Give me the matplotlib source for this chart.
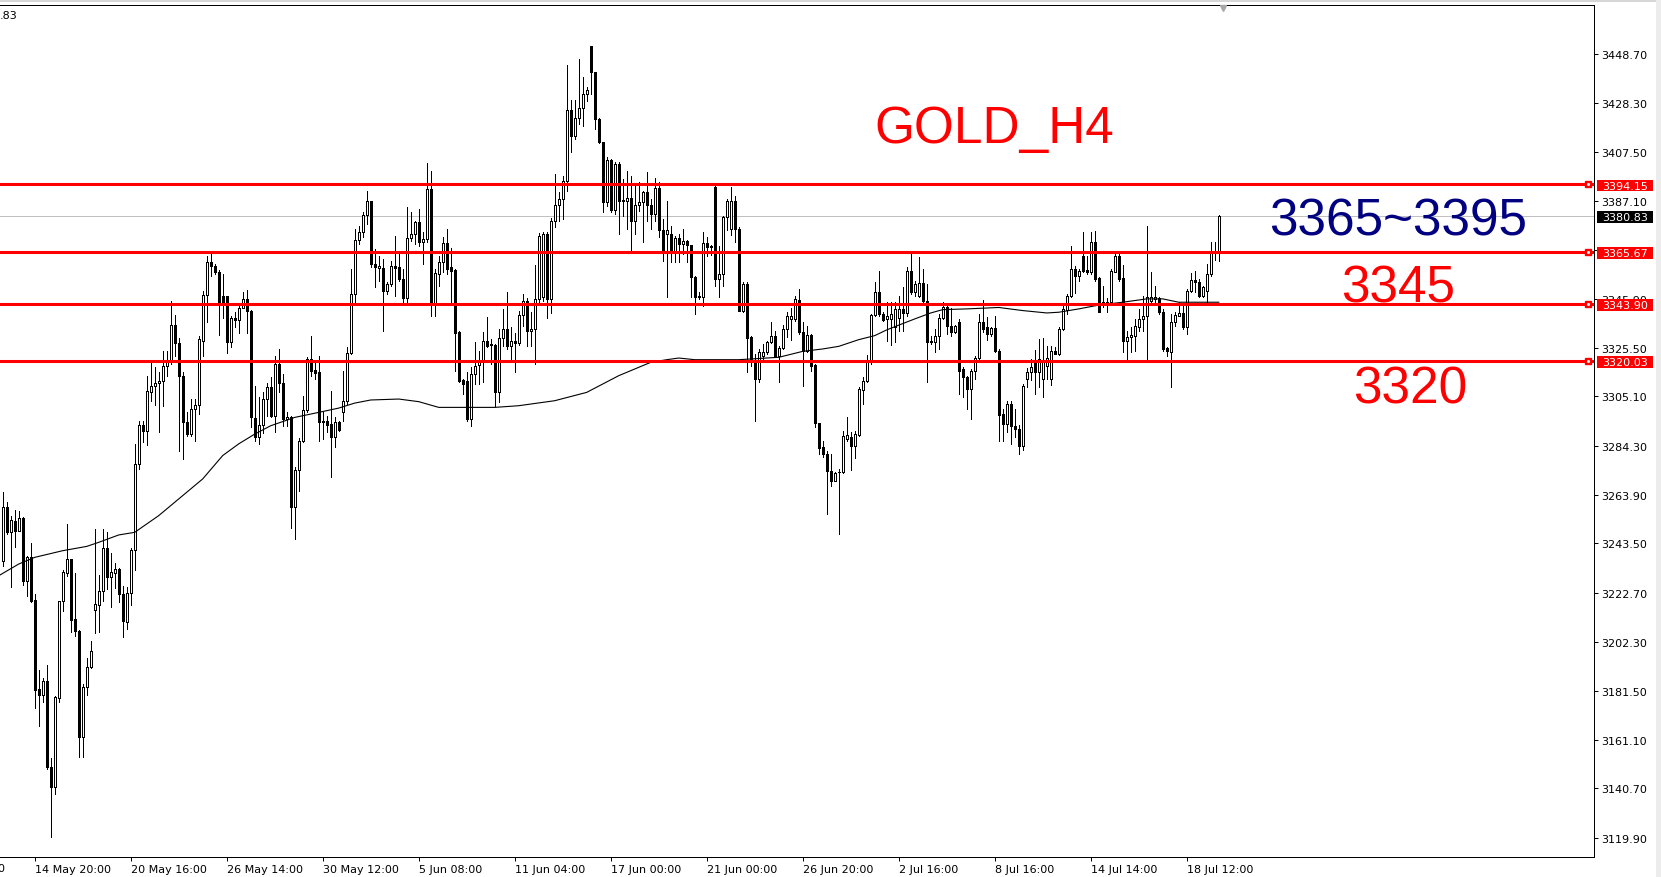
import matplotlib
matplotlib.use("Agg")
import matplotlib.pyplot as plt
from matplotlib.patches import Rectangle
from matplotlib.transforms import blended_transform_factory
import numpy as np

# GOLD H4 candles (oldest first)
opens = [
    3236.2, 3258.6, 3248.4, 3253.0, 3248.8, 3254.0, 3227.8, 3237.6, 3219.6, 3182.4,
    3179.9, 3185.6, 3149.8, 3141.4, 3178.5, 3219.2, 3231.0, 3236.9, 3211.7, 3206.9,
    3162.4, 3183.1, 3191.8, 3215.7, 3217.8, 3223.3, 3241.5, 3229.5, 3231.0, 3232.7,
    3222.2, 3210.6, 3222.5, 3240.7, 3276.7, 3293.3, 3290.5, 3307.0, 3309.3, 3310.6,
    3311.4, 3317.7, 3319.7, 3335.0, 3327.4, 3313.8, 3294.2, 3289.3, 3299.8, 3301.6,
    3328.5, 3347.6, 3361.3, 3359.9, 3357.4, 3347.1, 3347.1, 3328.1, 3337.8, 3337.3,
    3342.2, 3346.0, 3340.8, 3296.0, 3287.9, 3293.1, 3304.0, 3308.9, 3297.0, 3318.7,
    3310.7, 3295.6, 3296.6, 3258.9, 3274.2, 3286.5, 3299.4, 3320.8, 3316.2, 3315.2,
    3294.2, 3294.6, 3293.5, 3288.0, 3294.5, 3298.4, 3303.0, 3323.3, 3348.1, 3370.7,
    3374.2, 3381.2, 3386.9, 3360.6, 3358.9, 3359.0, 3349.5, 3352.2, 3359.7, 3359.2,
    3354.3, 3346.2, 3371.4, 3373.2, 3378.1, 3369.7, 3371.2, 3392.1, 3343.9, 3356.4,
    3361.3, 3369.4, 3359.2, 3358.3, 3332.0, 3312.0, 3311.7, 3295.6, 3314.5, 3318.3,
    3319.4, 3328.2, 3326.5, 3326.7, 3307.1, 3329.5, 3333.4, 3326.1, 3328.5, 3327.5,
    3339.2, 3345.0, 3332.7, 3333.4, 3345.9, 3347.0, 3373.2, 3345.9, 3378.8, 3385.4,
    3387.9, 3395.6, 3425.2, 3414.5, 3421.9, 3426.1, 3431.9, 3451.9, 3441.0, 3421.5,
    3411.7, 3386.8, 3404.4, 3383.4, 3402.6, 3387.5, 3387.2, 3388.2, 3378.8, 3385.4,
    3386.8, 3390.7, 3385.5, 3381.6, 3392.5, 3374.9, 3373.2, 3373.2, 3366.2, 3371.4,
    3369.0, 3370.4, 3368.6, 3355.3, 3347.4, 3346.7, 3369.4, 3367.6, 3392.8, 3354.3,
    3356.4, 3380.2, 3375.3, 3387.2, 3375.3, 3341.1, 3352.2, 3329.9, 3320.0, 3312.4,
    3322.2, 3323.6, 3327.8, 3330.6, 3322.2, 3325.3, 3333.4, 3337.6, 3337.6, 3345.5,
    3332.0, 3324.3, 3330.9, 3318.4, 3293.9, 3283.7, 3280.9, 3273.9, 3269.8, 3273.2,
    3273.3, 3287.2, 3287.9, 3284.2, 3288.9, 3307.9, 3311.7, 3319.7, 3339.2, 3349.0,
    3339.7, 3337.6, 3337.6, 3334.1, 3338.0, 3341.8, 3340.1, 3357.8, 3348.7, 3347.4,
    3352.7, 3345.3, 3328.5, 3328.1, 3330.6, 3337.8, 3342.5, 3334.8, 3332.0, 3336.4,
    3316.6, 3313.1, 3308.2, 3315.9, 3321.1, 3336.4, 3334.1, 3331.3, 3333.6, 3324.3,
    3297.7, 3293.5, 3301.9, 3292.8, 3291.4, 3284.4, 3312.4, 3315.2, 3320.4, 3315.2,
    3312.4, 3318.0, 3312.4, 3324.3, 3322.9, 3333.4, 3341.5, 3347.1, 3358.5, 3355.7,
    3364.1, 3358.1, 3357.1, 3369.7, 3354.6, 3344.5, 3343.9, 3344.8, 3357.4, 3363.9,
    3354.6, 3328.5, 3329.9, 3330.6, 3334.1, 3337.6, 3339.0, 3345.3, 3346.0, 3346.2,
    3340.6, 3325.3, 3323.9, 3336.2, 3339.0, 3339.9, 3334.1, 3349.5, 3353.9, 3353.2,
    3347.4, 3349.5, 3356.4, 3365.5, 3366.2,
]
highs = [
    3264.9, 3260.7, 3255.1, 3257.5, 3257.2, 3254.5, 3238.3, 3243.5, 3222.2, 3190.4,
    3187.0, 3192.4, 3153.3, 3179.6, 3219.4, 3232.3, 3251.6, 3237.0, 3230.9, 3207.0,
    3184.5, 3195.3, 3202.5, 3249.5, 3230.2, 3249.5, 3248.1, 3239.3, 3235.1, 3233.0,
    3225.7, 3225.0, 3241.4, 3285.2, 3294.9, 3294.9, 3313.8, 3319.4, 3317.3, 3315.2,
    3324.3, 3324.3, 3345.3, 3339.2, 3329.5, 3315.2, 3298.4, 3304.0, 3304.0, 3330.6,
    3349.4, 3364.1, 3364.8, 3360.6, 3358.0, 3356.4, 3347.4, 3338.9, 3340.4, 3343.9,
    3348.8, 3349.7, 3341.5, 3309.6, 3304.7, 3306.8, 3310.7, 3313.1, 3322.2, 3325.0,
    3314.5, 3298.4, 3296.8, 3275.4, 3287.5, 3305.4, 3321.5, 3330.6, 3319.4, 3322.2,
    3298.4, 3297.0, 3307.5, 3296.3, 3294.9, 3315.9, 3325.7, 3358.5, 3375.3, 3376.7,
    3382.3, 3391.4, 3387.2, 3366.9, 3364.1, 3362.7, 3352.9, 3362.0, 3372.2, 3364.8,
    3358.5, 3384.4, 3382.3, 3378.8, 3383.7, 3373.9, 3403.0, 3399.5, 3358.5, 3364.1,
    3371.8, 3375.3, 3367.2, 3358.5, 3332.7, 3312.4, 3315.2, 3317.3, 3328.1, 3324.3,
    3332.0, 3338.3, 3329.2, 3326.9, 3333.4, 3341.8, 3348.8, 3334.1, 3331.9, 3341.1,
    3348.1, 3346.2, 3340.4, 3360.2, 3373.5, 3374.0, 3374.0, 3380.0, 3398.4, 3390.7,
    3397.7, 3444.1, 3429.6, 3429.6, 3446.6, 3438.9, 3434.7, 3452.2, 3441.2, 3421.7,
    3411.9, 3405.4, 3404.7, 3403.3, 3403.3, 3396.3, 3399.8, 3397.7, 3393.5, 3395.2,
    3391.4, 3399.4, 3387.9, 3396.6, 3395.2, 3379.5, 3387.2, 3376.7, 3372.5, 3373.2,
    3375.3, 3370.8, 3368.8, 3355.5, 3348.8, 3373.9, 3371.8, 3368.6, 3393.5, 3368.3,
    3380.9, 3388.0, 3393.0, 3389.0, 3376.0, 3353.0, 3353.0, 3330.5, 3323.0, 3325.0,
    3327.0, 3328.5, 3336.2, 3332.7, 3326.4, 3335.0, 3340.6, 3342.0, 3347.1, 3350.1,
    3336.2, 3334.8, 3331.3, 3318.6, 3294.1, 3286.5, 3282.3, 3280.9, 3273.3, 3274.7,
    3290.7, 3296.3, 3290.0, 3290.7, 3308.9, 3313.1, 3322.5, 3339.7, 3352.9, 3357.8,
    3340.6, 3344.6, 3344.6, 3344.8, 3347.4, 3350.8, 3359.2, 3364.8, 3353.6, 3363.4,
    3358.5, 3352.2, 3330.3, 3333.4, 3339.7, 3344.6, 3343.4, 3342.0, 3335.0, 3337.6,
    3317.3, 3313.8, 3316.6, 3322.2, 3339.7, 3345.5, 3338.3, 3334.1, 3339.0, 3325.0,
    3300.0, 3303.0, 3303.3, 3300.0, 3293.0, 3310.3, 3317.0, 3320.8, 3324.5, 3329.2,
    3329.5, 3326.4, 3326.4, 3325.7, 3334.1, 3343.2, 3348.1, 3368.3, 3359.9, 3358.5,
    3373.9, 3364.1, 3373.9, 3374.6, 3355.0, 3351.5, 3346.2, 3358.5, 3364.8, 3364.8,
    3360.2, 3332.7, 3334.1, 3337.6, 3341.8, 3347.4, 3376.7, 3357.4, 3351.5, 3346.7,
    3341.8, 3325.7, 3339.7, 3340.4, 3344.6, 3343.9, 3350.1, 3356.9, 3357.8, 3354.3,
    3351.3, 3360.6, 3369.7, 3370.0, 3381.0,
]
lows = [
    3234.1, 3247.5, 3225.0, 3241.8, 3248.8, 3226.0, 3221.2, 3219.0, 3174.3, 3167.0,
    3176.8, 3149.0, 3120.2, 3138.4, 3176.8, 3215.2, 3229.9, 3206.2, 3204.8, 3153.7,
    3153.7, 3179.9, 3191.2, 3205.7, 3206.4, 3219.4, 3224.3, 3216.6, 3224.6, 3218.7,
    3204.1, 3207.6, 3217.8, 3232.4, 3274.7, 3285.8, 3284.9, 3303.3, 3301.5, 3290.3,
    3301.2, 3313.8, 3318.7, 3322.2, 3282.4, 3278.9, 3288.6, 3288.6, 3286.5, 3297.7,
    3322.2, 3336.2, 3355.7, 3356.4, 3331.0, 3337.8, 3323.2, 3326.0, 3334.1, 3331.6,
    3342.2, 3331.6, 3292.1, 3286.5, 3285.1, 3289.6, 3297.0, 3296.5, 3290.0, 3306.8,
    3292.8, 3292.5, 3249.8, 3245.3, 3265.6, 3285.8, 3298.4, 3313.8, 3312.4, 3286.5,
    3287.2, 3290.0, 3271.2, 3283.7, 3290.7, 3294.9, 3301.9, 3322.9, 3344.6, 3369.0,
    3371.8, 3377.4, 3359.2, 3350.8, 3353.6, 3332.7, 3348.1, 3351.5, 3347.4, 3353.6,
    3344.3, 3344.6, 3370.4, 3369.0, 3368.3, 3360.6, 3369.7, 3338.9, 3338.9, 3351.5,
    3357.1, 3356.4, 3344.6, 3315.9, 3311.0, 3306.1, 3294.9, 3292.8, 3310.3, 3310.3,
    3311.0, 3325.7, 3318.7, 3301.2, 3302.6, 3326.4, 3325.0, 3319.4, 3315.2, 3326.7,
    3334.8, 3326.4, 3326.4, 3318.7, 3344.6, 3345.0, 3338.0, 3340.0, 3376.0, 3378.8,
    3379.5, 3391.4, 3407.5, 3413.0, 3419.3, 3418.6, 3429.1, 3431.9, 3417.2, 3411.5,
    3382.6, 3385.1, 3382.3, 3381.6, 3373.2, 3380.9, 3375.3, 3366.2, 3373.2, 3383.0,
    3370.0, 3378.8, 3375.3, 3378.8, 3372.0, 3362.0, 3346.7, 3361.3, 3361.3, 3361.6,
    3364.8, 3361.3, 3346.7, 3339.7, 3345.9, 3343.2, 3364.1, 3364.4, 3351.5, 3346.6,
    3351.3, 3375.0, 3373.0, 3370.0, 3341.0, 3340.5, 3315.2, 3318.0, 3294.9, 3311.0,
    3320.0, 3322.9, 3327.5, 3321.5, 3311.3, 3325.0, 3329.9, 3328.9, 3336.9, 3331.3,
    3309.6, 3323.6, 3315.9, 3292.1, 3280.9, 3279.5, 3255.8, 3267.7, 3269.5, 3247.4,
    3273.0, 3286.5, 3274.4, 3279.1, 3288.6, 3301.9, 3311.0, 3318.7, 3338.7, 3339.0,
    3336.9, 3328.5, 3326.7, 3327.8, 3332.7, 3332.7, 3339.0, 3348.0, 3347.4, 3347.0,
    3344.6, 3311.0, 3327.1, 3323.6, 3325.0, 3337.6, 3331.3, 3330.3, 3331.7, 3306.1,
    3304.7, 3299.8, 3295.6, 3312.4, 3320.1, 3332.2, 3328.9, 3330.6, 3323.6, 3286.5,
    3286.5, 3290.0, 3285.1, 3288.0, 3281.0, 3282.6, 3309.0, 3312.0, 3306.0, 3309.0,
    3305.0, 3312.4, 3310.0, 3322.9, 3322.5, 3333.0, 3339.7, 3346.7, 3348.5, 3353.6,
    3357.4, 3356.4, 3356.4, 3353.6, 3340.6, 3342.5, 3340.6, 3344.6, 3357.1, 3353.6,
    3323.6, 3320.8, 3323.6, 3324.3, 3332.7, 3332.7, 3319.8, 3344.6, 3344.6, 3339.7,
    3324.3, 3322.2, 3309.0, 3334.8, 3338.9, 3333.4, 3331.3, 3348.8, 3348.8, 3346.7,
    3346.7, 3344.6, 3355.7, 3362.5, 3362.0,
]
closes = [
    3258.6, 3248.4, 3253.3, 3248.8, 3254.0, 3227.8, 3237.6, 3219.1, 3182.1, 3179.9,
    3185.6, 3149.8, 3141.4, 3178.9, 3219.2, 3231.3, 3236.9, 3211.3, 3206.9, 3162.4,
    3183.1, 3191.8, 3198.2, 3218.0, 3223.3, 3241.5, 3229.5, 3231.3, 3232.7, 3222.2,
    3211.0, 3222.5, 3240.7, 3276.7, 3293.3, 3290.5, 3307.2, 3309.3, 3310.6, 3311.4,
    3317.7, 3319.7, 3335.0, 3327.4, 3313.8, 3294.2, 3289.3, 3299.8, 3301.6, 3329.2,
    3347.6, 3361.3, 3359.9, 3357.4, 3344.6, 3344.3, 3328.1, 3337.8, 3337.3, 3342.2,
    3346.0, 3340.8, 3296.3, 3287.9, 3293.1, 3304.0, 3308.9, 3297.0, 3318.7, 3310.7,
    3295.6, 3296.3, 3258.9, 3274.2, 3286.5, 3299.4, 3320.8, 3315.9, 3314.8, 3294.2,
    3294.9, 3293.3, 3288.0, 3294.5, 3291.1, 3303.0, 3323.3, 3348.1, 3370.7, 3374.2,
    3381.2, 3386.9, 3360.6, 3359.2, 3360.0, 3349.5, 3352.2, 3359.7, 3358.8, 3354.3,
    3346.2, 3371.4, 3373.2, 3378.1, 3369.7, 3371.2, 3392.1, 3343.9, 3356.7, 3361.3,
    3369.4, 3358.5, 3357.8, 3331.6, 3311.7, 3310.3, 3295.6, 3314.5, 3318.0, 3319.4,
    3328.2, 3326.4, 3327.1, 3307.1, 3329.5, 3333.4, 3326.1, 3328.5, 3327.5, 3339.2,
    3345.0, 3332.7, 3333.4, 3345.9, 3372.5, 3373.2, 3345.9, 3378.8, 3385.4, 3387.9,
    3395.6, 3425.2, 3414.5, 3421.9, 3426.1, 3431.9, 3433.7, 3441.0, 3421.5, 3411.7,
    3386.8, 3404.4, 3383.4, 3402.6, 3387.2, 3386.9, 3388.2, 3378.8, 3385.4, 3386.8,
    3390.7, 3385.5, 3381.6, 3392.5, 3374.9, 3366.2, 3374.9, 3366.2, 3371.4, 3369.0,
    3370.4, 3368.6, 3355.0, 3346.7, 3346.7, 3369.4, 3367.6, 3368.3, 3354.3, 3356.4,
    3380.2, 3386.9, 3387.2, 3375.3, 3341.1, 3352.2, 3329.5, 3320.0, 3312.4, 3323.6,
    3323.6, 3327.8, 3330.6, 3322.2, 3325.3, 3333.4, 3339.0, 3338.7, 3345.9, 3332.0,
    3324.3, 3330.9, 3318.0, 3293.9, 3283.3, 3280.9, 3273.9, 3269.8, 3273.0, 3273.4,
    3288.6, 3288.9, 3284.2, 3289.3, 3308.2, 3311.7, 3319.7, 3339.2, 3349.0, 3339.7,
    3337.1, 3338.9, 3339.7, 3341.8, 3341.8, 3340.1, 3357.8, 3348.7, 3352.2, 3352.7,
    3345.3, 3327.8, 3327.8, 3330.6, 3337.8, 3342.5, 3334.8, 3332.0, 3334.8, 3315.9,
    3313.1, 3308.2, 3315.9, 3321.1, 3336.4, 3333.4, 3331.3, 3333.6, 3324.3, 3297.4,
    3293.5, 3301.9, 3292.8, 3291.4, 3284.4, 3309.6, 3315.5, 3317.3, 3315.2, 3320.8,
    3320.4, 3321.0, 3324.3, 3322.9, 3333.4, 3341.8, 3347.1, 3358.5, 3355.7, 3357.8,
    3357.8, 3357.1, 3369.7, 3354.3, 3340.6, 3344.2, 3344.8, 3357.8, 3363.9, 3354.3,
    3328.5, 3329.9, 3330.9, 3334.5, 3337.6, 3339.0, 3346.7, 3346.7, 3346.7, 3340.6,
    3325.0, 3324.3, 3336.2, 3339.2, 3339.9, 3334.1, 3349.5, 3353.9, 3353.2, 3347.1,
    3350.8, 3356.4, 3366.2, 3366.2, 3380.83,
]

# moving average, read at a few bars
ma_bar = [-1, 4, 8, 15, 21, 24, 29, 33, 39, 46, 50, 55, 59, 63, 67, 73, 79, 84, 88,
          92, 99, 104, 109, 114, 123, 129, 138, 146, 154, 162, 166, 169, 173, 184,
          194, 200, 205, 209, 214, 218, 221, 224, 228, 232, 235, 241, 249, 255, 261,
          264, 269, 274, 280, 286, 290, 294, 304]
ma_val = [3229.9, 3234.8, 3237.6, 3240.4, 3242.2, 3243.9, 3247.0, 3248.1, 3255.1,
          3264.9, 3270.5, 3280.3, 3285.2, 3289.3, 3292.8, 3296.3, 3298.4, 3300.2,
          3302.3, 3303.6, 3304.0, 3302.9, 3300.5, 3300.5, 3300.5, 3301.2, 3303.3,
          3306.8, 3313.8, 3319.4, 3320.5, 3321.2, 3320.5, 3320.5, 3321.5, 3324.0,
          3325.0, 3326.1, 3328.9, 3330.6, 3333.0, 3335.0, 3337.6, 3340.1, 3341.5,
          3341.8, 3342.4, 3341.1, 3340.1, 3340.4, 3341.8, 3343.4, 3344.6, 3346.0,
          3346.0, 3344.6, 3344.6]

levels = [3394.15, 3365.67, 3343.90, 3320.03]
bid = 3380.83

ytick_vals = [3448.70, 3428.30, 3407.50, 3387.10, 3366.30, 3345.90, 3325.50, 3305.10,
              3284.30, 3263.90, 3243.50, 3222.70, 3202.30, 3181.50, 3161.10, 3140.70,
              3119.90]
xtick_bars = [8, 32, 56, 80, 104, 128, 152, 176, 200, 224, 248, 272, 296]
xtick_labels = ["14 May 20:00", "20 May 16:00", "26 May 14:00", "30 May 12:00",
                "5 Jun 08:00", "11 Jun 04:00", "17 Jun 00:00", "21 Jun 00:00",
                "26 Jun 20:00", "2 Jul 16:00", "8 Jul 16:00", "14 Jul 14:00",
                "18 Jul 12:00"]

W, H = 1661, 878
fig = plt.figure(figsize=(W / 100, H / 100), dpi=100)
def fx(px):
    return px / W
def fy(py):
    return 1 - py / H

ax = fig.add_axes([0, fy(858), fx(1594), fy(6) - fy(858)])
ax.set_xlim(-0.675, 397.8)
ax.set_ylim(3111.94, 3469.25)

o = np.array(opens)
c = np.array(closes)
hi = np.maximum(np.array(highs), np.maximum(o, c))
lo = np.minimum(np.array(lows), np.minimum(o, c))
x = np.arange(len(c))
up = c >= o
px = 0.72  # one pixel in points

ax.axhline(bid, color="#c0c0c0", lw=px, zorder=1)
ax.vlines(x, lo, hi, color="black", lw=px, zorder=2, antialiased=False)
bot = np.minimum(o, c)
hgt = np.maximum(np.abs(c - o), 0.05)
ax.bar(x[up], hgt[up], bottom=bot[up], width=0.55, facecolor="white",
       edgecolor="black", linewidth=px, zorder=3, antialiased=False)
ax.bar(x[~up], hgt[~up], bottom=bot[~up], width=0.55, facecolor="black",
       edgecolor="black", linewidth=px, zorder=3, antialiased=False)
ax.plot(ma_bar, ma_val, color="black", lw=0.8, zorder=4)

trans = blended_transform_factory(ax.transAxes, ax.transData)
for lv in levels:
    ax.axhline(lv, color="#ff0000", lw=2.2, zorder=5)
    ax.plot([0.9965], [lv], marker="s", ms=4, color="#ff0000", transform=trans,
            zorder=6, clip_on=False)
    ax.plot([0.9965], [lv], marker="s", ms=1, color="white", transform=trans,
            zorder=7, clip_on=False)

def price_box(val, color):
    ax.add_patch(Rectangle((1597 / 1594, val - 3.1), 56 / 1594, 5.0, transform=trans,
                           facecolor=color, edgecolor="none", zorder=10, clip_on=False))
    ax.text(1625 / 1594, val - 0.6, f"{val:.2f}", transform=trans, color="white",
            fontsize=8, ha="center", va="center", zorder=11, clip_on=False)

for lv in levels:
    price_box(lv, "#ff0000")
price_box(bid, "black")

ax.yaxis.tick_right()
ax.set_yticks(ytick_vals)
ax.set_yticklabels([f"{v:.2f}" for v in ytick_vals])
ax.tick_params(axis="y", length=3, width=px, pad=2, labelsize=8, colors="black")
ax.set_xticks(xtick_bars)
ax.set_xticklabels(xtick_labels)
ax.tick_params(axis="x", length=3, width=px, pad=2, labelsize=8)
plt.setp(ax.get_xticklabels(), ha="left")
ax.spines["left"].set_visible(False)
for s in ["top", "right", "bottom"]:
    ax.spines[s].set_linewidth(px)

# window chrome
fig.patches.append(Rectangle((0, fy(2.5)), 1, fy(0) - fy(2.5), transform=fig.transFigure,
                             facecolor="#d6d6d6", edgecolor="none"))
fig.patches.append(Rectangle((fx(1656), 0), fx(5), 1, transform=fig.transFigure,
                             facecolor="#ececec", edgecolor="none"))
ax.plot([1223 / 1594], [0.997], marker="v", ms=4, color="#a8a8a8",
        transform=ax.transAxes, clip_on=False, zorder=12)

fig.text(fx(0), fy(16), ".83", fontsize=8, va="center", ha="left")
fig.text(fx(-3), fy(869), "0", fontsize=8, va="center", ha="left")

big = ["Liberation Sans", "DejaVu Sans"]
fig.text(fx(994), fy(143), "GOLD_H4", color="#ff0000", fontsize=37, family=big,
         ha="center", va="baseline")
fig.text(fx(1398), fy(235), "3365~3395", color="#000080", fontsize=37, family=big,
         ha="center", va="baseline")
fig.text(fx(1398), fy(302.5), "3345", color="#ff0000", fontsize=37, family=big,
         ha="center", va="baseline")
fig.text(fx(1410), fy(404), "3320", color="#ff0000", fontsize=37, family=big,
         ha="center", va="baseline")

fig.savefig("out.png", dpi=100)
